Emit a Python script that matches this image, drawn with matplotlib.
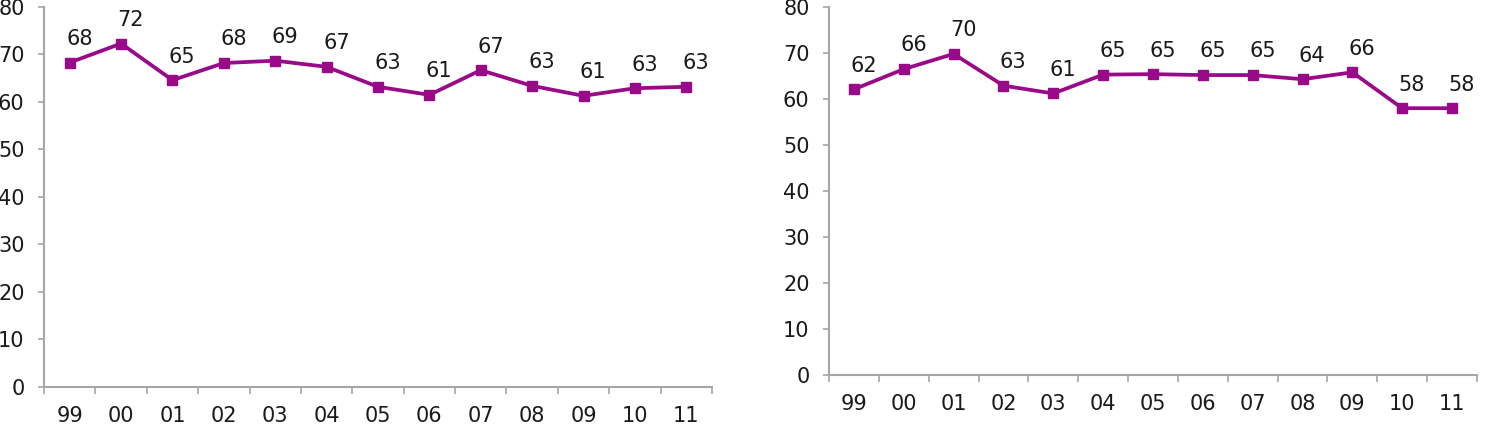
import numpy as np
import matplotlib
matplotlib.use('Agg')
import matplotlib.pyplot as plt

years = ['99', '00', '01', '02', '03', '04', '05', '06', '07', '08', '09', '10', '11']
left_values = [68.3, 72.3, 64.6, 68.2, 68.7, 67.4, 63.2, 61.5, 66.7, 63.4, 61.3, 62.9, 63.2]
left_labels = [68, 72, 65, 68, 69, 67, 63, 61, 67, 63, 61, 63, 63]
right_values = [62.1, 66.5, 69.8, 62.9, 61.2, 65.3, 65.4, 65.2, 65.2, 64.3, 65.8, 58.0, 58.0]
right_labels = [62, 66, 70, 63, 61, 65, 65, 65, 65, 64, 66, 58, 58]

line_color = '#990a88'
axis_color = '#a6a6a6'
text_color = '#1a1a1a'

plt.rcParams['font.family'] = ['DejaVu Sans']

fig = plt.figure(figsize=(14.97, 4.29), dpi=100)
ax_left = fig.add_axes([0.0294, 0.0979, 0.4462, 0.8858])
ax_right = fig.add_axes([0.5538, 0.1259, 0.4328, 0.8578])


def draw(ax, values, labels):
    x = np.arange(len(years))
    ax.plot(x, values, color=line_color, lw=2.7, marker='s', ms=6.5,
            markerfacecolor=line_color, markeredgecolor=line_color, clip_on=False)
    for xi, v, lab in zip(x, values, labels):
        ax.annotate(str(lab), (xi, v), xytext=(7, 17), textcoords='offset points',
                    ha='center', va='center', fontsize=15, color=text_color)
    ax.set_xlim(-0.5, len(years) - 0.5)
    ax.set_ylim(0, 80)
    ax.set_yticks(range(0, 81, 10))
    ax.set_xticks(x)
    ax.set_xticklabels(years)
    ax.set_xticks(np.arange(-0.5, len(years)), minor=True)
    ax.tick_params(axis='x', which='major', length=0, pad=14, labelsize=15, labelcolor=text_color)
    ax.tick_params(axis='x', which='minor', length=5, width=1.2, color=axis_color)
    ax.tick_params(axis='y', length=4, width=1.2, color=axis_color, pad=10,
                   labelsize=15, labelcolor=text_color)
    for s in ['top', 'right']:
        ax.spines[s].set_visible(False)
    for s in ['left', 'bottom']:
        ax.spines[s].set_color(axis_color)
        ax.spines[s].set_linewidth(1.5)


draw(ax_left, left_values, left_labels)
draw(ax_right, right_values, right_labels)

fig.savefig('out.png', dpi=100)
